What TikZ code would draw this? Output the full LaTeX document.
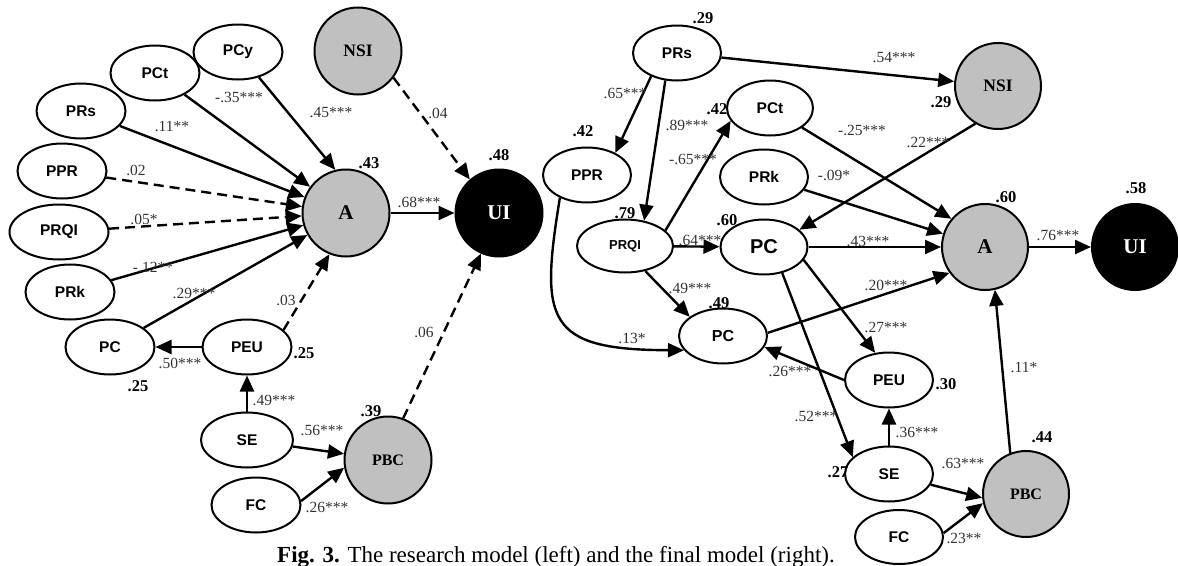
\documentclass[tikz,border=0pt]{standalone}
\usepackage{fontspec}
\setmainfont{Liberation Serif}
\setsansfont{Liberation Sans}
\usepackage{tikz}
\usetikzlibrary{arrows.meta,shapes.geometric}
\definecolor{silver}{RGB}{192,192,192}

\begin{document}
\begin{tikzpicture}[x=1pt,y=-1pt,>={Triangle[length=16pt,width=14pt]},
  ell/.style={draw,ellipse,line width=2pt,inner sep=0pt,minimum width=89pt,minimum height=55pt,font=\fontsize{15.5}{18}\selectfont\sffamily\bfseries},
  grey/.style={draw,circle,line width=2pt,fill=silver,inner sep=0pt,minimum size=87pt,font=\fontsize{17.5}{20}\selectfont\bfseries},
  dark/.style={grey,fill=black,text=white,font=\fontsize{21}{24}\selectfont\bfseries},
  arr/.style={->,line width=2.4pt},
  dsh/.style={dash pattern=on 10pt off 6pt},
  coef/.style={inner sep=0pt,text=black!80,font=\fontsize{15.5}{18}\selectfont},
  rsq/.style={inner sep=0pt,font=\fontsize{16.5}{19}\selectfont\bfseries}]
\useasboundingbox (0,0) rectangle (1178,565);

% research model (left)
\node (PCy) [ell] at (238,52) {PCy};
\node (PCt) [ell] at (155,73) {PCt};
\node (PRs) [ell] at (81,111) {PRs};
\node (PPR) [ell] at (62,171) {PPR};
\node (PRQI) [ell,minimum width=99pt] at (59,232) {PRQI};
\node (PRk) [ell] at (70,292) {PRk};
\node (PC) [ell] at (110,347) {PC};
\node (PEU) [ell] at (247,347) {PEU};
\node (SE) [ell,minimum width=92pt] at (247,440) {SE};
\node (FC) [ell] at (256,505) {FC};
\node (PBC) [grey,font=\fontsize{16}{19}\selectfont\bfseries] at (388,460) {PBC};
\node (A) [grey,font=\fontsize{21}{24}\selectfont\bfseries] at (346,213) {A};
\node (UI) [dark] at (499,213) {UI};
\node (NSI) [grey] at (358,51) {NSI};

\draw[arr] (PCy) -- (A.104);
\draw[arr] (PCt) -- (A);
\draw[arr] (PRs) -- (A);
\draw[arr,dsh] (PPR) -- (A);
\draw[arr,dsh] (PRQI) -- (A);
\draw[arr] (PRk) -- (A);
\draw[arr] (PC) -- (A);
\draw[arr,dsh] (PEU.25) -- (A.-112);
\draw[arr] (PEU) -- (PC);
\draw[arr] (SE) -- (PEU);
\draw[arr] (SE) -- (PBC);
\draw[arr] (FC.5) -- (PBC.190);
\draw[arr] (A) -- (UI);
\draw[arr,dsh] (NSI.-37) -- (UI.131);
\draw[arr,dsh] (PBC.70) -- (UI.-114);

\node (c1) [coef] at (331,113) {.45***};
\node (c2) [coef] at (239,97) {-.35***};
\node (c3) [coef] at (172,126) {.11**};
\node (c4) [coef] at (136,170) {.02};
\node (c5) [coef] at (144,219) {.05*};
\node (c6) [coef] at (153,267) {-.12**};
\node (c7) [coef] at (194,293) {.29***};
\node (c8) [coef] at (286,300) {.03};
\node (c9) [coef] at (180,363) {.50***};
\node (c10) [coef] at (274,400) {.49***};
\node (c11) [coef] at (322,430) {.56***};
\node (c12) [coef] at (327,507) {.26***};
\node (c13) [coef] at (424,332) {.06};
\node (c14) [coef] at (438,113) {.04};
\node (c15) [coef] at (419,202) {.68***};

\node (r1) [rsq] at (369,163) {.43};
\node (r2) [rsq] at (499,155) {.48};
\node (r3) [rsq] at (138,386) {.25};
\node (r4) [rsq] at (304,353) {.25};
\node (r5) [rsq] at (371,411) {.39};

% final model (right)
\node (PRs2) [ell,minimum width=88pt] at (677,53) {PRs};
\node (PPR2) [ell,minimum width=88pt] at (587,175) {PPR};
\node (PCt2) [ell,minimum width=86pt] at (770,108) {PCt};
\node (PRk2) [ell,minimum width=88pt] at (764,177) {PRk};
\node (PRQI2) [ell,minimum width=96pt,minimum height=53pt,font=\fontsize{13}{15}\selectfont\sffamily\bfseries] at (625,246) {PRQI};
\node (PCa2) [ell,minimum width=87pt,font=\fontsize{20}{23}\selectfont\sffamily\bfseries] at (764,247) {PC};
\node (PCb2) [ell,minimum width=88pt,font=\fontsize{16}{19}\selectfont\sffamily\bfseries] at (723,336) {PC};
\node (PEU2) [ell,minimum width=88pt] at (889,380) {PEU};
\node (SE2) [ell,minimum width=88pt] at (889,474) {SE};
\node (FC2) [ell,minimum width=88pt,minimum height=54pt] at (899,537) {FC};
\node (PBC2) [grey,minimum size=86pt,font=\fontsize{16}{19}\selectfont\bfseries] at (1026,494) {PBC};
\node (A2) [grey,minimum size=86pt,font=\fontsize{21}{24}\selectfont\bfseries] at (985,247) {A};
\node (UI2) [dark,minimum size=86pt] at (1135,247) {UI};
\node (NSI2) [grey,minimum size=86pt] at (998,86) {NSI};

\draw[arr] (PRs2) -- (NSI2);
\draw[arr] (PRs2.222) -- (PPR2.38);
\draw[arr] (PRs2.247) -- (PRQI2.53);
\draw[arr] (PRQI2.21) -- (PCt2.198);
\draw[arr] (PCt2) -- (A2.140);
\draw[arr] (PRk2) -- (A2);
\draw[arr] (NSI2.239) -- (PCa2.26);
\draw[arr] (PRQI2) -- (PCa2);
\draw[arr] (PCa2) -- (A2);
\draw[arr] (PRQI2.309) -- (PCb2.150);
\draw[arr] (PPR2.220) .. controls (540,320) and (545,350) .. (PCb2.200);
\draw[arr] (PCb2.4) -- (A2.216);
\draw[arr] (PCa2.342) -- (PEU2.117);
\draw[arr] (PCa2.305) -- (SE2.155);
\draw[arr] (PEU2.west) -- (PCb2.345);
\draw[arr] (SE2) -- (PEU2);
\draw[arr] (SE2) -- (PBC2.185);
\draw[arr] (FC2.5) -- (PBC2.192);
\draw[arr] (PBC2.111) -- (A2.283);
\draw[arr] (A2) -- (UI2);

\node (d1) [coef] at (894,58) {.54***};
\node (d2) [coef] at (625,93) {.65***};
\node (d3) [coef] at (687,125) {.89***};
\node (d4) [coef] at (693,159) {-.65***};
\node (d5) [coef] at (862,130) {-.25***};
\node (d6) [coef] at (928,142) {.22***};
\node (d7) [coef] at (834,175) {-.09*};
\node (d8) [coef] at (700,240) {.64***};
\node (d9) [coef] at (868,241) {.43***};
\node (d10) [coef] at (690,288) {.49***};
\node (d11) [coef] at (632,338) {.13*};
\node (d12) [coef] at (886,285) {.20***};
\node (d13) [coef] at (886,327) {.27***};
\node (d14) [coef] at (790,371) {.26***};
\node (d15) [coef] at (816,416) {.52***};
\node (d16) [coef] at (917,432) {.36***};
\node (d17) [coef] at (963,463) {.63***};
\node (d18) [coef] at (964,538) {.23**};
\node (d19) [coef] at (1024,367) {.11*};
\node (d20) [coef] at (1058,235) {.76***};

\node (s1) [rsq] at (703,18) {.29};
\node (s2) [rsq] at (583,131) {.42};
\node (s3) [rsq] at (717,109) {.42};
\node (s4) [rsq] at (625,213) {.79};
\node (s5) [rsq] at (727,220) {.60};
\node (s6) [rsq] at (719,303) {.49};
\node (s7) [rsq] at (1006,197) {.60};
\node (s8) [rsq] at (1136,188) {.58};
\node (s9) [rsq] at (941,102) {.29};
\node (s10) [rsq] at (946,384) {.30};
\node (s11) [rsq] at (838,472) {.27};
\node (s12) [rsq] at (1042,437) {.44};

\node (cap) [anchor=base,inner sep=0pt,font=\fontsize{23}{26}\selectfont] at (556,562) {\textbf{Fig. 3.} The research model (left) and the final model (right).};
\end{tikzpicture}
\end{document}
